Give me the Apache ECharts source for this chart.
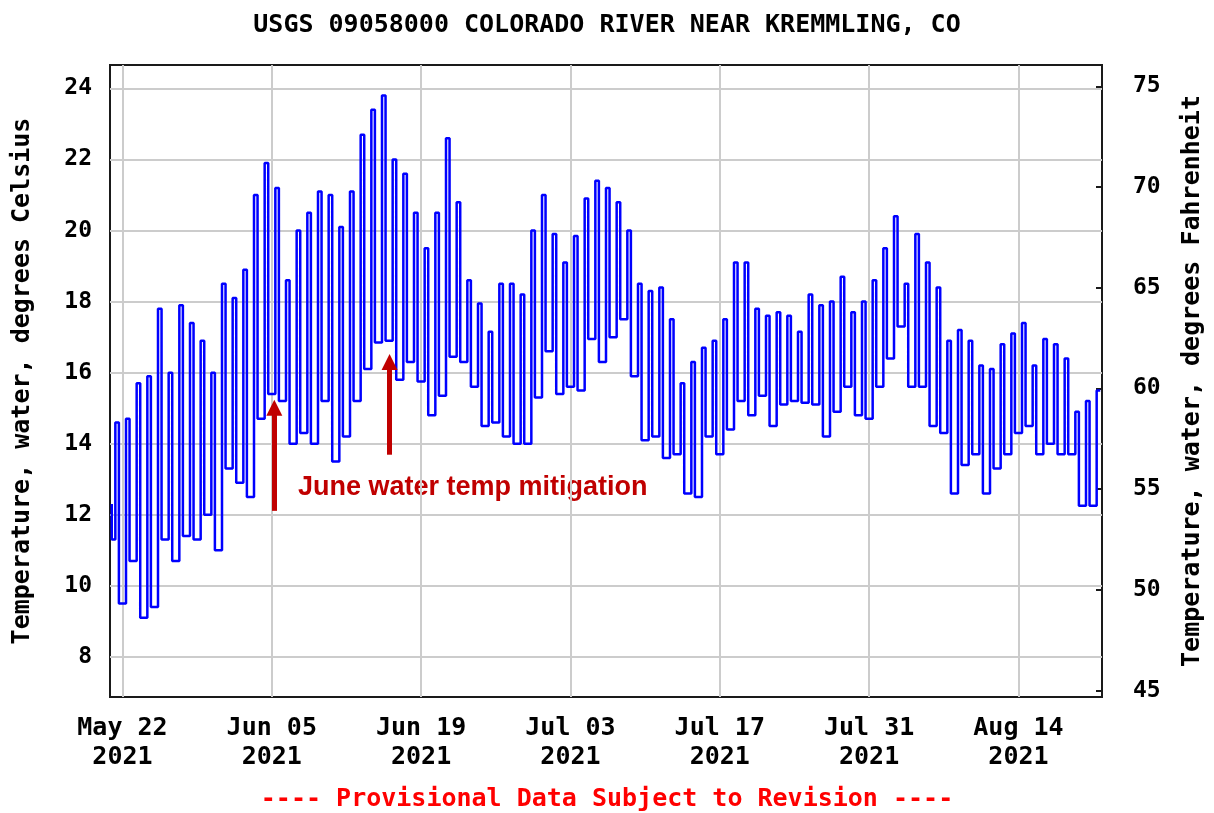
<!DOCTYPE html>
<html lang="en">
<head>
<meta charset="UTF-8">
<title>USGS 09058000 Colorado River near Kremmling, CO</title>
<style>
    html, body { margin: 0; padding: 0; background: #fff; }
    #main { width: 1214px; height: 813px; }
</style>
<script src="https://cdn.jsdelivr.net/npm/echarts@6/dist/echarts.min.js"></script>
</head>
<body>
<div id="main"></div>
<script type="text/javascript">
    // water temperature (deg C), daily low (morning) and high (afternoon), May 21 .. Aug 21 2021
    var firstReading = 12.3; // value at midnight May 21, left edge of the plot
    var dailyMin = [
        11.3, 9.5, 10.7, 9.1, 9.4, 11.3, 10.7, 11.4, 11.3, 12.0,
        11.0, 13.3, 12.9, 12.5, 14.7, 15.4, 15.2, 14.0, 14.3, 14.0,
        15.2, 13.5, 14.2, 15.2, 16.1, 16.85, 16.9, 15.8, 16.3, 15.75,
        14.8, 15.35, 16.45, 16.3, 15.6, 14.5, 14.6, 14.2, 14.0, 14.0,
        15.3, 16.6, 15.4, 15.6, 15.5, 16.95, 16.3, 17.0, 17.5, 15.9,
        14.1, 14.2, 13.6, 13.7, 12.6, 12.5, 14.2, 13.7, 14.4, 15.2,
        14.8, 15.35, 14.5, 15.1, 15.2, 15.15, 15.1, 14.2, 14.9, 15.6,
        14.8, 14.7, 15.6, 16.4, 17.3, 15.6, 15.6, 14.5, 14.3, 12.6,
        13.4, 13.7, 12.6, 13.3, 13.7, 14.3, 14.5, 13.7, 14.0, 13.7,
        13.7, 12.25, 12.25
    ];
    var dailyMax = [
        14.6, 14.7, 15.7, 15.9, 17.8, 16.0, 17.9, 17.4, 16.9, 16.0,
        18.5, 18.1, 18.9, 21.0, 21.9, 21.2, 18.6, 20.0, 20.5, 21.1,
        21.0, 20.1, 21.1, 22.7, 23.4, 23.8, 22.0, 21.6, 20.5, 19.5,
        20.5, 22.6, 20.8, 18.6, 17.95, 17.15, 18.5, 18.5, 18.2, 20.0,
        21.0, 19.9, 19.1, 19.85, 20.9, 21.4, 21.2, 20.8, 20.0, 18.5,
        18.3, 18.4, 17.5, 15.7, 16.3, 16.7, 16.9, 17.5, 19.1, 19.1,
        17.8, 17.6, 17.7, 17.6, 17.15, 18.2, 17.9, 18.0, 18.7, 17.7,
        18.0, 18.6, 19.5, 20.4, 18.5, 19.9, 19.1, 18.4, 16.9, 17.2,
        16.9, 16.2, 16.1, 16.8, 17.1, 17.4, 16.2, 16.95, 16.8, 16.4,
        14.9, 15.2, 15.5
    ];
    var xTickDates = ['2021-05-22', '2021-06-05', '2021-06-19', '2021-07-03', '2021-07-17', '2021-07-31', '2021-08-14'];
    var celsiusTicks = [8, 10, 12, 14, 16, 18, 20, 22, 24];
    var fahrenheitTicks = [45, 50, 55, 60, 65, 70, 75];
    var monthNames = ['Jan', 'Feb', 'Mar', 'Apr', 'May', 'Jun', 'Jul', 'Aug', 'Sep', 'Oct', 'Nov', 'Dec'];
    // the two arrows of the note: time, start temp, end temp
    var arrowTimes = ['2021-06-05T05:45', '2021-06-16T01:00'];
    var arrowFrom = [12.11, 13.69];
    var arrowTo = [15.01, 16.30];

    var mono = '"DejaVu Sans Mono", monospace';

    function localTime(s) {
        var p = s.split(/[-T:]/);
        return new Date(+p[0], +p[1] - 1, +p[2], +(p[3] || 0), +(p[4] || 0)).getTime();
    }
    function dayTime(i, hour) {
        return new Date(2021, 4, 21 + i, hour).getTime();
    }
    function pad(n) { return n < 10 ? '0' + n : '' + n; }

    var points = [[dayTime(0, 0), firstReading]];
    for (var i = 0; i < dailyMin.length; i++) {
        points.push([dayTime(i, 8), dailyMin[i]]);
        points.push([dayTime(i, 16), dailyMax[i]]);
    }
    var xTicks = xTickDates.map(localTime);

    var arrowLines = arrowTimes.map(function (t, k) {
        return [{ coord: [localTime(t), arrowFrom[k]] }, { coord: [localTime(t), arrowTo[k]] }];
    });

    // plot runs 6.87..24.66 C; the F scale on the right is drawn slightly stretched
    var cMin = 6.87, cMax = 24.66;
    function toF(c) { return 45 + (c - 7.05) * 30 / 17.01; }

    var gridLine = { show: true, lineStyle: { color: '#cccccc', width: 2 } };

    var myChart = echarts.init(document.getElementById('main'));
    var option = {
        animation: false,
        backgroundColor: '#fff',
        title: {
            text: 'USGS 09058000 COLORADO RIVER NEAR KREMMLING, CO',
            left: 'center',
            top: 8,
            textStyle: { fontFamily: mono, fontSize: 25, fontWeight: 'bold', color: '#000' }
        },
        grid: {
            left: 110, right: 112, top: 65, bottom: 116,
            show: true, borderColor: '#1a1a1a', borderWidth: 2, backgroundColor: '#fff'
        },
        xAxis: {
            // timestamps on a plain value axis, ticks every 14 days
            type: 'value',
            min: localTime('2021-05-20T20:00'),
            max: localTime('2021-08-21T20:00'),
            axisLine: { show: false },
            axisTick: { show: false, customValues: xTicks },
            axisLabel: {
                customValues: xTicks,
                margin: 17,
                fontFamily: mono, fontSize: 25, fontWeight: 'bold', color: '#000', lineHeight: 29,
                formatter: function (v) {
                    var d = new Date(v);
                    return monthNames[d.getMonth()] + ' ' + pad(d.getDate()) + '\n' + d.getFullYear();
                }
            },
            splitLine: gridLine
        },
        yAxis: [{
            type: 'value',
            position: 'left',
            min: cMin, max: cMax,
            name: 'Temperature, water, degrees Celsius',
            nameLocation: 'middle', nameRotate: 90, nameGap: 75,
            nameTextStyle: { fontFamily: mono, fontSize: 25, fontWeight: 'bold', color: '#000' },
            axisLine: { show: false },
            axisTick: { show: false, customValues: celsiusTicks },
            axisLabel: {
                customValues: celsiusTicks, margin: 18,
                fontFamily: mono, fontSize: 23, fontWeight: 'bold', color: '#000'
            },
            splitLine: gridLine
        }, {
            type: 'value',
            position: 'right',
            min: toF(cMin), max: toF(cMax),
            name: 'Temperature, water, degrees Fahrenheit',
            nameLocation: 'middle', nameRotate: 90, nameGap: 78,
            nameTextStyle: { fontFamily: mono, fontSize: 25, fontWeight: 'bold', color: '#000' },
            axisLine: { show: false },
            axisTick: { show: true, inside: true, length: 6, customValues: fahrenheitTicks,
                lineStyle: { color: '#1a1a1a', width: 2 } },
            axisLabel: {
                customValues: fahrenheitTicks, margin: 31,
                fontFamily: mono, fontSize: 23, fontWeight: 'bold', color: '#000'
            },
            splitLine: { show: false }
        }],
        series: [{
            name: 'Temperature',
            type: 'line',
            yAxisIndex: 0,
            step: 'start',
            showSymbol: false,
            lineStyle: { color: '#0000ff', width: 2.5 },
            data: points,
            markLine: {
                silent: true,
                symbol: ['none', 'triangle'],
                symbolSize: 16,
                label: { show: false },
                lineStyle: { color: '#c00000', width: 5, type: 'solid' },
                itemStyle: { color: '#c00000' },
                data: arrowLines
            }
        }],
        graphic: [{
            type: 'text',
            left: 298, top: 474,
            style: {
                text: 'June water temp mitigation',
                fill: '#c00000',
                font: 'bold 27px "Liberation Sans", Arial, sans-serif'
            }
        }, {
            type: 'text',
            left: 'center', top: 787,
            style: {
                text: '---- Provisional Data Subject to Revision ----',
                fill: '#ff0000',
                font: 'bold 25px "DejaVu Sans Mono", monospace'
            }
        }]
    };
    myChart.setOption(option);
</script>
</body>
</html>
